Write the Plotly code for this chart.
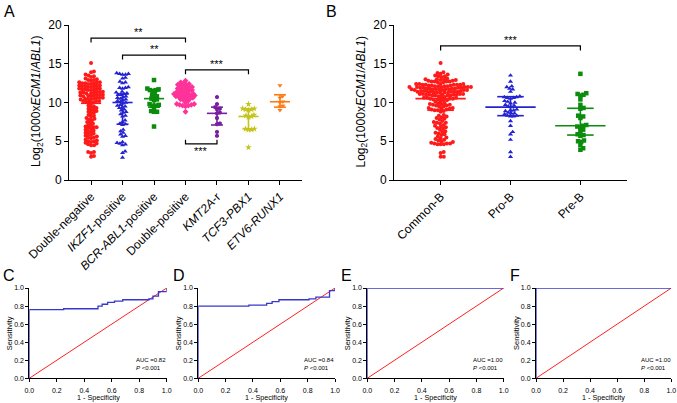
import numpy as np
import plotly.graph_objects as go

# ---------------- panel A data ----------------
a_groups = ['Double-negative', '<i>IKZF1</i>-positive', '<i>BCR-ABL1</i>-positive', 'Double-positive',
            '<i>KMT2A</i>-r', '<i>TCF3-PBX1</i>', '<i>ETV6-RUNX1</i>']
double_negative = [15.1, 14.0, 13.9, 13.6, 13.5, 13.4, 13.3, 13.1, 13.0, 12.9, 12.9, 12.8,
                   12.6, 12.5, 12.6, 12.4, 12.5, 12.6, 12.4, 12.5, 12.2, 12.1, 12.2, 12.0, 12.1, 12.2, 12.0, 12.1,
                   11.8, 11.7, 11.8, 11.6, 11.7, 11.8, 11.6, 11.7, 11.4, 11.3, 11.4, 11.2, 11.3, 11.4, 11.2, 11.3,
                   11.0, 10.9, 11.0, 10.8, 10.9, 11.0, 10.8, 10.9, 10.6, 10.5, 10.6, 10.4, 10.5, 10.6, 10.4, 10.5,
                   10.2, 10.1, 10.2, 10.0, 10.1, 10.2, 9.8, 9.6, 9.5, 9.3, 9.2, 9.0, 8.9, 8.8, 8.7, 8.6, 9.4, 9.1,
                   8.4, 8.3, 8.2, 8.0, 7.9, 7.8, 7.7, 7.5, 7.4, 7.3, 7.1, 7.0, 6.9, 6.8, 6.8, 6.7, 6.6, 6.5,
                   6.4, 6.3, 6.2, 6.1, 6.0, 5.9, 5.8, 5.7, 5.6, 5.5, 5.5, 5.4, 5.2, 5.1, 5.0, 5.0, 4.9, 4.8,
                   4.7, 4.6, 4.5, 4.5, 3.6, 3.5, 3.6, 3.0, 3.1]
ikzf1_positive = [13.8, 13.7, 13.7, 13.6, 13.6, 13.2, 13.1, 12.7, 12.6, 12.5, 12.0, 11.9, 11.9, 11.8,
                  11.4, 11.3, 11.2, 11.1, 11.0, 11.0, 10.8, 10.7, 10.6, 10.5, 10.4, 10.3, 10.2, 10.1, 10.0, 9.9,
                  9.7, 9.6, 9.5, 9.4, 9.3, 9.1, 9.0, 8.8, 8.7, 8.5, 8.3, 8.2, 7.7, 7.5, 7.3, 7.2, 7.1,
                  6.5, 6.3, 6.1, 5.9, 5.7, 5.6, 4.9, 4.8, 4.7, 4.6, 4.5, 3.7, 3.5, 2.9]
bcr_abl1_positive = [12.9, 11.8, 11.7, 11.6, 11.6, 11.5, 11.2, 11.0, 10.8, 10.7, 10.5, 10.4, 10.3,
                     9.8, 9.7, 9.6, 9.6, 9.3, 8.9, 8.8, 8.8, 6.9]
double_positive = [12.8, 12.6, 12.5, 12.4, 12.3, 12.3, 12.2, 12.1, 12.0, 12.0, 11.9, 11.8, 11.8, 11.7,
                   11.6, 11.6, 11.5, 11.4, 11.4, 11.3, 11.2, 11.2, 11.1, 11.1, 11.0, 11.0, 10.9, 10.9,
                   10.8, 10.8, 10.7, 10.7, 10.6, 10.5, 10.5, 10.4, 10.3, 10.2, 10.0, 9.8, 9.8, 9.7, 9.7,
                   9.6, 9.6, 9.5, 8.8]
kmt2a_r = [10.7, 9.8, 9.4, 9.2, 9.1, 8.7, 8.6, 8.0, 7.3, 7.2, 6.2, 5.7]
tcf3_pbx1 = [9.8, 9.2, 9.2, 9.1, 9.1, 9.0, 8.4, 8.3, 8.2, 8.1, 6.6, 6.6, 6.5, 6.5, 4.2]
etv6_runx1 = [12.2, 10.8, 10.6, 10.1, 10.0, 9.6, 9.5, 9.0]
a_median = [9.9, 10.0, 10.5, 10.9, 8.6, 8.2, 10.1]
a_q1 = [6.9, 7.2, 9.4, 10.4, 7.1, 6.6, 9.4]
a_q3 = [11.6, 11.1, 11.5, 11.5, 9.4, 9.2, 11.0]
a_colors = ['#ff1a1a', '#2323d2', '#0c8c0c', '#ff3399', '#7a1fa0', '#c4c41c', '#ff7a14']
a_symbols = ['circle', 'triangle-up', 'square', 'diamond', 'hexagon', 'star', 'triangle-down']
a_sig = [(0, 3, 18.3, '**'), (1, 3, 16.1, '**'), (3, 5, 14.2, '***'), (3, 4, 4.65, '***')]

# ---------------- panel B data ----------------
b_groups = ['Common-B', 'Pro-B', 'Pre-B']
common_b = [15.1, 13.9, 13.8, 13.7, 13.6, 13.5, 13.4, 13.4, 13.3, 13.1, 13.0, 13.0, 12.9, 12.9, 13.0,
            12.8, 12.7, 12.7, 12.6, 12.7, 12.8, 12.6, 12.7,
            12.4, 12.3, 12.4, 12.2, 12.3, 12.4, 12.2, 12.3, 12.4, 12.2, 12.3, 12.3,
            12.1, 12.0, 12.1, 12.0, 11.9, 12.0, 12.1, 11.9, 12.0, 11.9, 12.1, 12.0, 11.9, 12.0,
            11.7, 11.8, 11.6, 11.7, 11.8, 11.6, 11.7, 11.8, 11.7, 11.6, 11.7, 11.8, 11.6, 11.7,
            11.4, 11.3, 11.4, 11.5, 11.3, 11.4, 11.3, 11.5, 11.4, 11.3, 11.4, 11.5, 11.3, 11.4,
            11.0, 11.1, 10.9, 11.0, 11.1, 10.9, 11.0, 11.1, 10.9, 11.0, 11.1, 10.9, 11.0, 10.8,
            10.6, 10.5, 10.7, 10.4, 10.6, 10.5, 10.3, 10.6, 10.4, 10.5, 10.2, 10.6, 10.1, 10.3,
            9.9, 9.8, 9.7, 9.6, 9.9, 9.7, 9.5, 9.8, 9.6, 9.5, 9.3, 9.2, 9.1, 9.0, 9.3, 8.9, 9.1, 8.8, 9.2, 9.0,
            8.4, 8.2, 8.3, 8.0, 7.9, 7.8, 8.1, 7.6, 7.5, 7.4, 7.4, 7.3, 7.1, 7.0, 6.9, 6.8, 6.7, 6.6,
            6.5, 6.3, 6.2, 6.1, 6.0, 5.9, 5.8, 5.6, 5.5, 5.4, 5.3, 5.2, 5.1, 5.0, 4.9, 4.8, 4.7, 4.7,
            4.6, 4.6, 4.7, 4.6, 3.6, 3.5, 3.0, 3.0]
pro_b = [13.5, 12.7, 12.1, 12.0, 11.8, 11.7, 11.4, 10.8, 10.7, 10.7, 10.6, 10.6, 10.5, 10.2, 10.1, 10.0,
         9.9, 9.7, 9.6, 9.5, 9.4, 9.1, 9.0, 9.0, 8.9, 8.7, 8.6, 8.6, 8.5, 8.3, 8.3, 8.2, 8.2, 7.6, 7.0,
         6.2, 5.9, 5.2, 3.6, 3.0]
pre_b = [13.7, 11.2, 11.1, 11.0, 10.9, 10.4, 9.7, 9.3, 9.2, 8.3, 8.2, 8.0, 7.1, 7.0, 6.9, 6.8, 6.5, 6.3,
         5.9, 5.8, 5.7, 5.1, 5.0, 4.9, 4.5, 4.1, 3.9]
b_median = [10.5, 9.4, 7.0]
b_q1 = [9.0, 8.3, 5.8]
b_q3 = [11.7, 10.75, 9.25]
b_colors = ['#ff1a1a', '#2323d2', '#0c8c0c']
b_symbols = ['circle', 'triangle-up', 'square']
b_sig = [(0, 2, 17.3, '***')]

# ---------------- ROC data ----------------
roc_c_fpr = [0, 0, 0.25, 0.50, 0.53, 0.57, 0.62, 0.68, 0.87, 0.90, 0.94, 0.97, 1.0]
roc_c_tpr = [0, 0.76, 0.77, 0.80, 0.82, 0.84, 0.855, 0.87, 0.88, 0.91, 0.96, 0.96, 1.0]
roc_d_fpr = [0, 0, 0.37, 0.50, 0.54, 0.59, 0.81, 0.86, 0.96, 1.0]
roc_d_tpr = [0, 0.80, 0.81, 0.83, 0.85, 0.87, 0.88, 0.90, 0.97, 1.0]
roc_e_fpr = [0, 0, 1.0]
roc_e_tpr = [0, 1.0, 1.0]
roc_f_fpr = [0, 0, 1.0]
roc_f_tpr = [0, 1.0, 1.0]
roc_auc = ['0.82', '0.84', '1.00', '1.00']

W, H = 677, 403
FONT = 'Liberation Sans, Arial, sans-serif'


def fx(p):
    return p / W


def fy(p):
    return 1 - p / H


def swarm(values, d, xs, ys):
    # simple beeswarm: place each point as close to the centre as possible without overlap (pixel space)
    vals = np.asarray(values, dtype=float)
    offs = np.zeros(len(vals))
    placed = []
    for i in np.argsort(vals, kind='stable'):
        y = vals[i] * ys
        cands = [0.0]
        for px, py in placed:
            dy = y - py
            if abs(dy) < d:
                dx = np.sqrt(d * d - dy * dy)
                cands += [px + dx, px - dx]
        cands.sort(key=abs)
        for c in cands:
            if all((c - px) ** 2 + (y - py) ** 2 >= d * d - 1e-6 for px, py in placed):
                break
        placed.append((c, y))
        offs[i] = c / xs
    return offs


fig = go.Figure()


def dot_panel(ax, groups, colors, symbols, sizes, med, q1, q3, xs, ys, d, mw, cw):
    xa, ya = ('x' + ax, 'y' + ax)
    for i, vals in enumerate(groups):
        off = swarm(vals, d, xs, ys)
        fig.add_trace(go.Scatter(x=i + off, y=vals, mode='markers', xaxis=xa, yaxis=ya,
                                 marker=dict(symbol=symbols[i], color=colors[i], size=sizes[i]),
                                 hoverinfo='y'))
        lx = [i - mw, i + mw, None, i, i, None, i - cw, i + cw, None, i - cw, i + cw]
        ly = [med[i], med[i], None, q1[i], q3[i], None, q1[i], q1[i], None, q3[i], q3[i]]
        fig.add_trace(go.Scatter(x=lx, y=ly, mode='lines', xaxis=xa, yaxis=ya,
                                 line=dict(color=colors[i], width=1.6), hoverinfo='skip'))


def brackets(ax, sig, h):
    for i0, i1, yv, lab in sig:
        down = yv > 8
        e = yv - h if down else yv + h
        fig.add_trace(go.Scatter(x=[i0, i0, i1, i1], y=[e, yv, yv, e], mode='lines',
                                 xaxis='x' + ax, yaxis='y' + ax,
                                 line=dict(color='black', width=1.2), hoverinfo='skip'))
        fig.add_annotation(x=(i0 + i1) / 2, y=yv, xref='x' + ax, yref='y' + ax, text=lab,
                           showarrow=False, xanchor='center', yanchor='bottom' if down else 'top',
                           yshift=-2 if down else 1, font=dict(size=11, color='black', family=FONT))


a_data = [double_negative, ikzf1_positive, bcr_abl1_positive, double_positive, kmt2a_r, tcf3_pbx1, etv6_runx1]
dot_panel('', a_data, a_colors, a_symbols, [4, 4.5, 4.5, 4.5, 4.5, 5, 4.5],
          a_median, a_q1, a_q3, 31.5, 7.75, 3.0, 0.32, 0.19)
brackets('', a_sig, 0.55)

dot_panel('2', [common_b, pro_b, pre_b], b_colors, b_symbols, [4, 4.5, 4.5],
          b_median, b_q1, b_q3, 70, 7.75, 3.2, 0.36, 0.19)
brackets('2', b_sig, 0.6)

rocs = [(roc_c_fpr, roc_c_tpr), (roc_d_fpr, roc_d_tpr), (roc_e_fpr, roc_e_tpr), (roc_f_fpr, roc_f_tpr)]
for k, (fpr, tpr) in enumerate(rocs):
    ax = str(k + 3)
    fig.add_trace(go.Scatter(x=[0, 1], y=[0, 1], mode='lines', xaxis='x' + ax, yaxis='y' + ax,
                             line=dict(color='#ff2020', width=1), cliponaxis=False, hoverinfo='skip'))
    fig.add_trace(go.Scatter(x=fpr, y=tpr, mode='lines', xaxis='x' + ax, yaxis='y' + ax,
                             line=dict(color='#3838cc', width=1.3, shape='hv'), cliponaxis=False))
    fig.add_annotation(x=0.76, y=0.2, xref='x' + ax, yref='y' + ax, text='AUC =' + roc_auc[k],
                       showarrow=False, xanchor='left', yanchor='middle',
                       font=dict(size=6, color='black', family=FONT))
    fig.add_annotation(x=0.76, y=0.115, xref='x' + ax, yref='y' + ax, text='<i>P</i> <0.001',
                       showarrow=False, xanchor='left', yanchor='middle',
                       font=dict(size=6, color='black', family=FONT))

axis_common = dict(showline=True, linecolor='black', linewidth=1, ticks='outside', tickcolor='black',
                   tickwidth=1, showgrid=False, zeroline=False, automargin=False,
                   tickfont=dict(size=12, color='black', family=FONT))
roc_common = dict(axis_common, ticklen=3, range=[0, 1], tickvals=[0, 0.2, 0.4, 0.6, 0.8, 1.0],
                  tickformat='.1f', tickfont=dict(size=7, color='black', family=FONT))

layout = dict(width=W, height=H, autosize=False, margin=dict(l=0, r=0, t=0, b=0, autoexpand=False),
              showlegend=False, plot_bgcolor='white', paper_bgcolor='white',
              font=dict(family=FONT, color='black'))
layout['xaxis'] = dict(axis_common, domain=[fx(69), fx(302)], range=[-0.7, 6.7], tickvals=list(range(7)),
                       ticktext=a_groups, tickangle=-45, ticklen=4, anchor='y')
layout['yaxis'] = dict(axis_common, domain=[fy(180), fy(25)], range=[0, 20], tickvals=[0, 5, 10, 15, 20],
                       ticklen=4, anchor='x')
layout['xaxis2'] = dict(axis_common, domain=[fx(394), fx(627)], range=[-0.667, 2.667], tickvals=[0, 1, 2],
                        ticktext=b_groups, tickangle=-45, ticklen=4, anchor='y2')
layout['yaxis2'] = dict(axis_common, domain=[fy(180), fy(25)], range=[0, 20], tickvals=[0, 5, 10, 15, 20],
                        ticklen=4, anchor='x2')
roc_x = [(29.3, 166.7), (198.3, 335), (367.3, 503.7), (536, 671.3)]
for k, (x0, x1) in enumerate(roc_x):
    n = str(k + 3)
    layout['xaxis' + n] = dict(roc_common, domain=[fx(x0), fx(x1)], anchor='y' + n, ticklabelstandoff=2)
    layout['yaxis' + n] = dict(roc_common, domain=[fy(378.3), fy(288)], anchor='x' + n)
fig.update_layout(**layout)

# axis titles and panel letters
ytitle = 'Log<sub>2</sub>(1000x<i>ECM1</i>/<i>ABL1</i>)'
for xp in (37, 361.5):
    fig.add_annotation(x=fx(xp), y=fy(102), xref='paper', yref='paper', text=ytitle, textangle=-90,
                       showarrow=False, xanchor='center', yanchor='middle',
                       font=dict(size=12, color='black', family=FONT))
for x0, x1 in roc_x:
    fig.add_annotation(x=fx(x0 - 20), y=fy(333), xref='paper', yref='paper', text='Sensitivity',
                       textangle=-90, showarrow=False, xanchor='center', yanchor='middle',
                       font=dict(size=7.5, color='black', family=FONT))
    fig.add_annotation(x=fx((x0 + x1) / 2), y=fy(397), xref='paper', yref='paper', text='1 - Specificity',
                       showarrow=False, xanchor='center', yanchor='middle',
                       font=dict(size=7.2, color='black', family=FONT))
for lab, xp, yp in [('A', 2, 1), ('B', 324, 1), ('C', 1, 265), ('D', 171, 265), ('E', 339, 265), ('F', 508, 265)]:
    fig.add_annotation(x=fx(xp), y=fy(yp), xref='paper', yref='paper', text=lab, showarrow=False,
                       xanchor='left', yanchor='top', font=dict(size=16, color='black', family=FONT))

# page body has a default 8px margin; drop it so the figure fills the window
fig.write_html("out.html", config={'displayModeBar': False},
               post_script="document.body.style.margin='0';")
